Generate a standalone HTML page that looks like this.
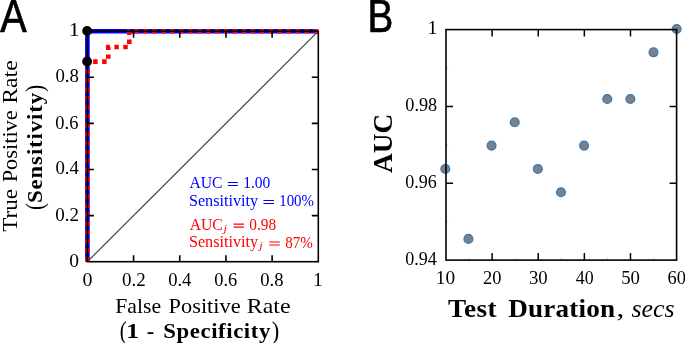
<!DOCTYPE html>
<html><head><meta charset="utf-8">
<style>
html,body{margin:0;padding:0;background:#fff;width:685px;height:343px;overflow:hidden}
svg{display:block;will-change:transform}
</style></head><body>
<svg width="685" height="343" viewBox="0 0 685 343">
<rect width="685" height="343" fill="#fff"/>
<line x1="87.4" y1="261.7" x2="318.3" y2="31.2" stroke="#444" stroke-width="1.2"/>
<polyline points="87.4,261.7 87.4,31.2 318.3,31.2" fill="none" stroke="#0000ff" stroke-width="4.6"/>
<polyline points="87.4,261.7 87.4,61.6 108.3,61.6 108.3,47 129.3,47 129.3,31.2 318.3,31.2" fill="none" stroke="#ff0000" stroke-width="4.6" stroke-dasharray="4.45 4.5"/>
<rect x="87.4" y="31.2" width="230.9" height="230.5" fill="none" stroke="#000" stroke-width="1.6"/>
<path d="M133.58,261.7v-6.5M133.58,31.2v6.5M179.76,261.7v-6.5M179.76,31.2v6.5M225.94,261.7v-6.5M225.94,31.2v6.5M272.12,261.7v-6.5M272.12,31.2v6.5M87.4,215.6h6.5M318.3,215.6h-6.5M87.4,169.5h6.5M318.3,169.5h-6.5M87.4,123.4h6.5M318.3,123.4h-6.5M87.4,77.3h6.5M318.3,77.3h-6.5" stroke="#000" stroke-width="1.6" fill="none"/>
<circle cx="87.1" cy="30.9" r="4.9" fill="#000"/>
<circle cx="87.1" cy="61.5" r="4.9" fill="#000"/>
<path d="M469.06,260.1v-2.5M515.18,260.1v-2.5M561.3,260.1v-2.5M607.42,260.1v-2.5M653.54,260.1v-2.5M446,221.68h2.5M446,144.85h2.5M446,68.02h2.5" stroke="#ccc" stroke-width="0.8" fill="none"/>
<g fill="#808080" stroke="#2f7cc0" stroke-width="1.3"><circle cx="445.3" cy="168.93" r="4.4"/><circle cx="468.44" cy="238.89" r="4.4"/><circle cx="491.57" cy="145.61" r="4.4"/><circle cx="514.71" cy="122.28" r="4.4"/><circle cx="537.84" cy="168.93" r="4.4"/><circle cx="560.98" cy="192.25" r="4.4"/><circle cx="584.11" cy="145.61" r="4.4"/><circle cx="607.25" cy="98.96" r="4.4"/><circle cx="630.38" cy="98.96" r="4.4"/><circle cx="653.51" cy="52.32" r="4.4"/><circle cx="676.65" cy="29" r="4.4"/></g>
<rect x="446.0" y="29.6" width="230.6" height="230.5" fill="none" stroke="#000" stroke-width="1.6"/>
<path d="M492.12,260.1v-7M492.12,29.6v7M538.24,260.1v-7M538.24,29.6v7M584.36,260.1v-7M584.36,29.6v7M630.48,260.1v-7M630.48,29.6v7M446,183.27h7M676.6,183.27h-7M446,106.43h7M676.6,106.43h-7" stroke="#000" stroke-width="1.5" fill="none"/>
<path d="M227.8,182.5H238M227.8,185.5H238M263.4,200.5H274M263.4,203.45H274" stroke="#0000ff" stroke-width="1.05" fill="none"/>
<path d="M233.6,224.1H244M233.6,227.1H244M269.2,241.9H279.8M269.2,244.9H279.8" stroke="#ff0000" stroke-width="1.05" fill="none"/>
<text transform="translate(0.22 32.15) scale(0.87 1)" font-family="'Liberation Sans', sans-serif" font-size="45.5" fill="#000" stroke="#000" stroke-width="0.7">A</text>
<text transform="translate(367.62 31.85) scale(0.85 1)" font-family="'Liberation Sans', sans-serif" font-size="45.5" fill="#000" stroke="#000" stroke-width="0.7">B</text>
<text transform="translate(68.68 36) scale(1.15 1)" font-family="'Liberation Serif', serif" font-size="19" fill="#000">1</text>
<text transform="translate(55.46 81.85) scale(0.99 1)" font-family="'Liberation Serif', serif" font-size="19" fill="#000">0.8</text>
<text transform="translate(55.37 128.55) scale(0.97 1)" font-family="'Liberation Serif', serif" font-size="19" fill="#000">0.6</text>
<text transform="translate(55.45 174.05) scale(0.99 1)" font-family="'Liberation Serif', serif" font-size="19" fill="#000">0.4</text>
<text transform="translate(55.35 220.55) scale(1 1)" font-family="'Liberation Serif', serif" font-size="19" fill="#000">0.2</text>
<text transform="translate(69.23 266.65) scale(1.03 1)" font-family="'Liberation Serif', serif" font-size="19" fill="#000">0</text>
<text transform="translate(82.41 285.95) scale(1.05 1)" font-family="'Liberation Serif', serif" font-size="19" fill="#000">0</text>
<text transform="translate(121.95 285.95) scale(1 1)" font-family="'Liberation Serif', serif" font-size="19" fill="#000">0.2</text>
<text transform="translate(168.16 285.95) scale(0.98 1)" font-family="'Liberation Serif', serif" font-size="19" fill="#000">0.4</text>
<text transform="translate(214.17 285.95) scale(0.97 1)" font-family="'Liberation Serif', serif" font-size="19" fill="#000">0.6</text>
<text transform="translate(260.27 285.95) scale(0.98 1)" font-family="'Liberation Serif', serif" font-size="19" fill="#000">0.8</text>
<text transform="translate(312.9 285.8) scale(1.03 1)" font-family="'Liberation Serif', serif" font-size="19" fill="#000">1</text>
<text transform="translate(115.29 313.1) scale(1.01 1)" font-family="'Liberation Serif', serif" font-size="21.5" fill="#000">False</text>
<text transform="translate(168.58 313.1) scale(1.04 1)" font-family="'Liberation Serif', serif" font-size="21.5" fill="#000">Positive</text>
<text transform="translate(246.85 313.1) scale(1.11 1)" font-family="'Liberation Serif', serif" font-size="21.5" fill="#000">Rate</text>
<text transform="translate(119.64 338.91) scale(0.96 1.13)" font-family="'Liberation Serif', serif" font-size="21.5" fill="#000">(</text>
<text transform="translate(126.23 337.9) scale(1.24 1)" font-family="'Liberation Serif', serif" font-size="20.7" fill="#000" font-weight="bold">1</text>
<text transform="translate(146.68 337.9) scale(1.09 1)" font-family="'Liberation Serif', serif" font-size="20.7" fill="#000" font-weight="bold">-</text>
<text transform="translate(163.3 337.9) scale(1.1 1)" font-family="'Liberation Serif', serif" font-size="20.7" fill="#000" font-weight="bold" letter-spacing="0.53">Specificity</text>
<text transform="translate(271.81 338.91) scale(1.05 1.13)" font-family="'Liberation Serif', serif" font-size="21.5" fill="#000">)</text>
<text transform="translate(17.1 231.74) rotate(-90) scale(1.07 1)" font-family="'Liberation Serif', serif" font-size="21.5" fill="#000">True</text>
<text transform="translate(17.1 182.32) rotate(-90) scale(1.04 1)" font-family="'Liberation Serif', serif" font-size="21.5" fill="#000">Positive</text>
<text transform="translate(17.1 103.65) rotate(-90) scale(1.1 1)" font-family="'Liberation Serif', serif" font-size="21.5" fill="#000">Rate</text>
<text transform="translate(42.62 210.08) rotate(-90) scale(0.98 1.13)" font-family="'Liberation Serif', serif" font-size="21.5" fill="#000">(</text>
<text transform="translate(42.4 203) rotate(-90) scale(1.1 1)" font-family="'Liberation Serif', serif" font-size="20.7" fill="#000" font-weight="bold" letter-spacing="0.82">Sensitivity</text>
<text transform="translate(42.52 91.95) rotate(-90) scale(1 1.13)" font-family="'Liberation Serif', serif" font-size="21.5" fill="#000">)</text>
<text transform="translate(189.45 187.7) scale(0.98 1)" font-family="'Liberation Serif', serif" font-size="16" fill="#0000ff">AUC</text>
<text transform="translate(243.15 187.7) scale(0.97 1)" font-family="'Liberation Serif', serif" font-size="16" fill="#0000ff">1.00</text>
<text transform="translate(188.89 205.6) scale(1.01 1)" font-family="'Liberation Serif', serif" font-size="16" fill="#0000ff">Sensitivity</text>
<text transform="translate(279.21 205.6) scale(0.93 1)" font-family="'Liberation Serif', serif" font-size="16" fill="#0000ff">100%</text>
<text transform="translate(189.65 229.7) scale(0.98 1)" font-family="'Liberation Serif', serif" font-size="16" fill="#ff0000">AUC</text>
<text transform="translate(223.56 231.55) scale(1.26 1)" font-family="'Liberation Serif', serif" font-size="10" fill="#ff0000" font-style="italic">j</text>
<text transform="translate(249.22 229.7) scale(0.96 1)" font-family="'Liberation Serif', serif" font-size="16" fill="#ff0000">0.98</text>
<text transform="translate(188.89 247.4) scale(1.01 1)" font-family="'Liberation Serif', serif" font-size="16" fill="#ff0000">Sensitivity</text>
<text transform="translate(259.23 249.45) scale(1.23 1)" font-family="'Liberation Serif', serif" font-size="10" fill="#ff0000" font-style="italic">j</text>
<text transform="translate(285.13 247.65) scale(0.94 1)" font-family="'Liberation Serif', serif" font-size="16" fill="#ff0000">87%</text>
<text transform="translate(427.47 34.1) scale(1.05 1)" font-family="'Liberation Serif', serif" font-size="19" fill="#000">1</text>
<text transform="translate(405.28 110.75) scale(0.96 1)" font-family="'Liberation Serif', serif" font-size="19" fill="#000">0.98</text>
<text transform="translate(405.29 187.75) scale(0.95 1)" font-family="'Liberation Serif', serif" font-size="19" fill="#000">0.96</text>
<text transform="translate(405.29 264.75) scale(0.95 1)" font-family="'Liberation Serif', serif" font-size="19" fill="#000">0.94</text>
<text transform="translate(435.76 283.95) scale(1.02 1)" font-family="'Liberation Serif', serif" font-size="19" fill="#000">10</text>
<text transform="translate(482.97 283.95) scale(0.97 1)" font-family="'Liberation Serif', serif" font-size="19" fill="#000">20</text>
<text transform="translate(528.91 283.95) scale(0.99 1)" font-family="'Liberation Serif', serif" font-size="19" fill="#000">30</text>
<text transform="translate(575.76 283.95) scale(0.94 1)" font-family="'Liberation Serif', serif" font-size="19" fill="#000">40</text>
<text transform="translate(621.21 283.95) scale(0.99 1)" font-family="'Liberation Serif', serif" font-size="19" fill="#000">50</text>
<text transform="translate(667.57 283.95) scale(0.97 1)" font-family="'Liberation Serif', serif" font-size="19" fill="#000">60</text>
<text transform="translate(392.1 173.05) rotate(-90) scale(1 1)" font-family="'Liberation Serif', serif" font-size="27.3" fill="#000" font-weight="bold">AUC</text>
<text transform="translate(447.95 316.5) scale(1.1 1)" font-family="'Liberation Serif', serif" font-size="24.7" fill="#000" font-weight="bold" letter-spacing="0.37">Test</text>
<text transform="translate(508.25 316.5) scale(1.1 1)" font-family="'Liberation Serif', serif" font-size="24.7" fill="#000" font-weight="bold" letter-spacing="0.17">Duration</text>
<text transform="translate(616.54 316.5) scale(1.26 1)" font-family="'Liberation Serif', serif" font-size="24.7" fill="#000">,</text>
<text transform="translate(631.44 316.5) scale(1.05 1)" font-family="'Liberation Serif', serif" font-size="24.7" fill="#000" font-style="italic">secs</text>
</svg>
</body></html>
